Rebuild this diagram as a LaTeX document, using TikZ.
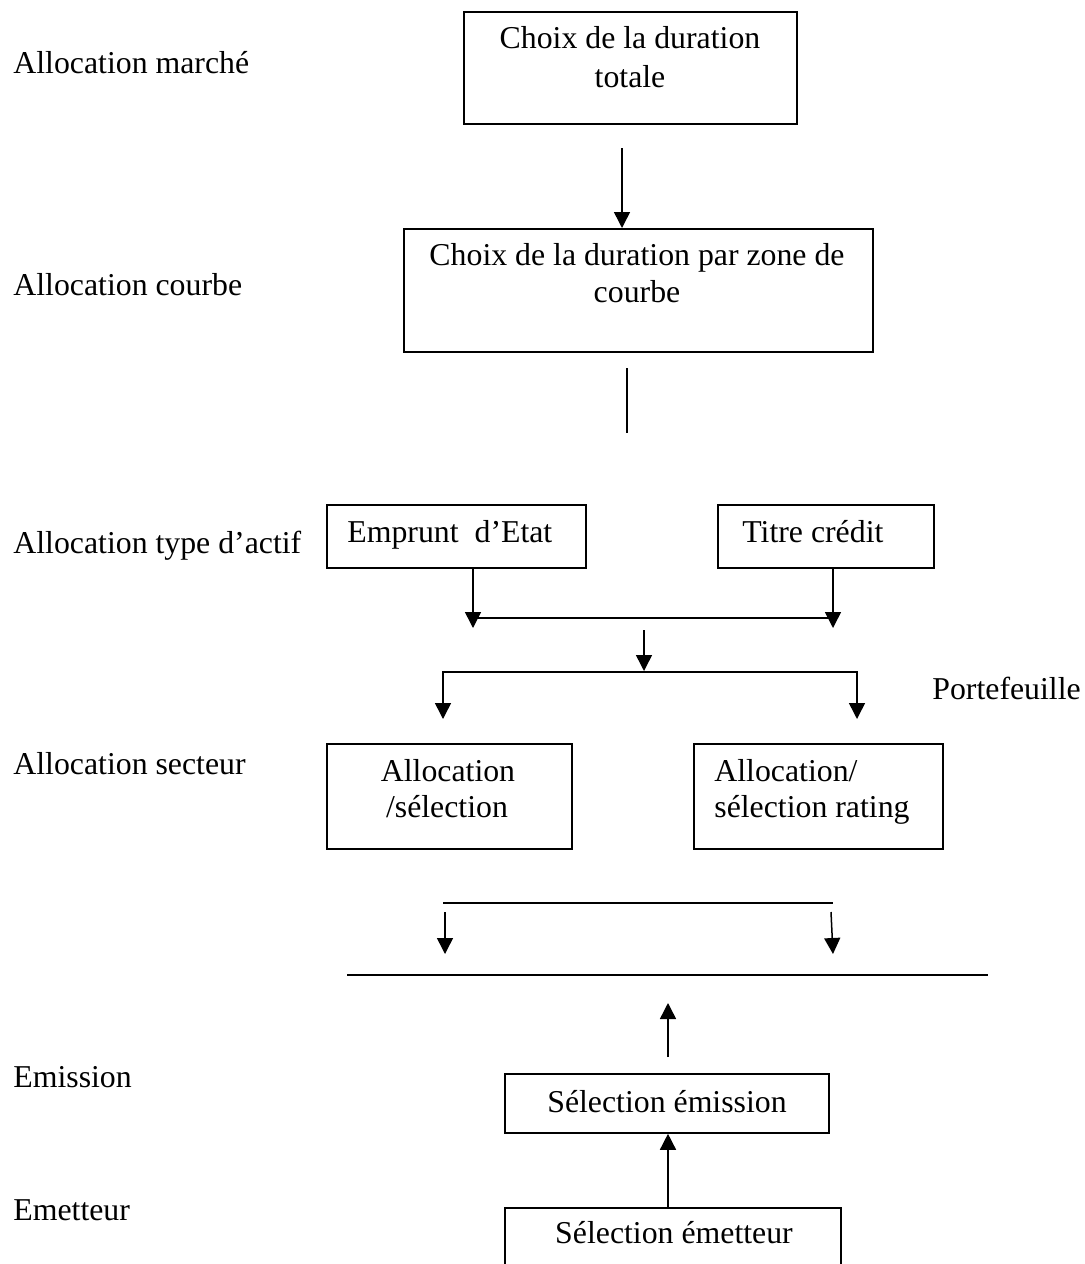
\documentclass[tikz,border=0pt]{standalone}
\usepackage{fontspec}
\setmainfont{Liberation Serif}
\usetikzlibrary{arrows.meta}
\begin{document}
\begin{tikzpicture}[x=0.5pt,y=-0.5pt,
  box/.style={draw,line width=0.9pt,inner sep=0pt,anchor=north west},
  txt/.style={inner sep=0pt,font=\fontsize{15.9}{19.5}\selectfont},
  lbl/.style={txt,anchor=base west},
  ctr/.style={txt,anchor=base},
  conn/.style={line width=0.75pt},
  tip/.tip={Triangle[length=8pt,width=8pt]},
  arr/.style={conn,-tip},
  darr/.style={conn,tip-tip}]
\useasboundingbox (0,0) rectangle (1085,1264);
\fill[white] (0,0) rectangle (1085,1264);

% left labels
\node[lbl] (lm) at (13,73) {Allocation marché};
\node[lbl] (lc) at (13,295) {Allocation courbe};
\node[lbl] (lt) at (13,553) {Allocation type d’actif};
\node[lbl] (ls) at (13,774) {Allocation secteur};
\node[lbl] (le) at (13,1087) {Emission};
\node[lbl] (lr) at (13,1220) {Emetteur};
\node[lbl] (lp) at (932,699) {Portefeuille};

% boxes
\node[box,minimum width=166.5pt,minimum height=56pt] (b1) at (463,11) {};
\node[box,minimum width=234.5pt,minimum height=61.5pt] (b2) at (403,228) {};
\node[box,minimum width=129.5pt,minimum height=31.5pt] (etat) at (326,504) {};
\node[box,minimum width=108pt,minimum height=31.5pt] (titre) at (717,504) {};
\node[box,minimum width=122.5pt,minimum height=52.5pt] (al1) at (326,743) {};
\node[box,minimum width=124.5pt,minimum height=52.5pt] (al2) at (693,743) {};
\node[box,minimum width=162pt,minimum height=29.5pt] (emis) at (504,1073) {};
\node[box,minimum width=168pt,minimum height=45pt] (emet) at (504,1207) {};

% box texts
\node[ctr] (b1a) at (630,48) {Choix de la duration};
\node[ctr] (b1b) at (630,87) {totale};
\node[ctr] (b2a) at (637,265) {Choix de la duration par zone de};
\node[ctr] (b2b) at (637,302) {courbe};
\node[lbl] (etatt) at (347,542) {Emprunt~~d’Etat};
\node[lbl] (titret) at (742,542) {Titre crédit};
\node[ctr] (al1a) at (448,781) {Allocation};
\node[ctr] (al1b) at (447,817) {/sélection};
\node[lbl] (al2a) at (714,781) {Allocation/};
\node[lbl] (al2b) at (714,817) {sélection rating};
\node[ctr] (emist) at (667,1112) {Sélection émission};
\node[ctr] (emett) at (674,1243) {Sélection émetteur};

% coordinates
\coordinate (a1s) at (622,148);
\coordinate (l1s) at (627,368);
\coordinate (l1e) at (627,433);
\coordinate (j1l) at (473,628);
\coordinate (j1r) at (833,628);
\coordinate (h1l) at (473,618);
\coordinate (h1r) at (833,618);
\coordinate (m1s) at (644,630);
\coordinate (m1e) at (644,671);
\coordinate (d1) at (443,719);
\coordinate (h2l) at (443,672);
\coordinate (h2r) at (857,672);
\coordinate (d2) at (857,719);
\coordinate (s1l) at (443,903);
\coordinate (s1r) at (833,903);
\coordinate (p1s) at (445,912);
\coordinate (p1e) at (445,954);
\coordinate (p2s) at (831,912);
\coordinate (p2e) at (833,954);
\coordinate (g1l) at (347,975);
\coordinate (g1r) at (988,975);
\coordinate (u1s) at (668,1057);
\coordinate (u1e) at (668,1003);
\coordinate (u2) at (668,1132);

% connectors
\draw[arr] (a1s) -- (a1s |- b2.north);
\draw[conn] (l1s) -- (l1e);
\draw[arr] (j1l |- etat.south) -- (j1l);
\draw[arr] (j1r |- titre.south) -- (j1r);
\draw[conn] (h1l) -- (h1r);
\draw[arr] (m1s) -- (m1e);
\draw[darr] (d1) -- (h2l) -- (h2r) -- (d2);
\draw[conn,line width=0.9pt] (s1l) -- (s1r);
\draw[arr] (p1s) -- (p1e);
\draw[arr] (p2s) -- (p2e);
\draw[conn,line width=1pt] (g1l) -- (g1r);
\draw[arr] (u1s) -- (u1e);
\draw[arr] (u2 |- emet.north) -- (u2 |- emis.south);
\end{tikzpicture}
\end{document}
